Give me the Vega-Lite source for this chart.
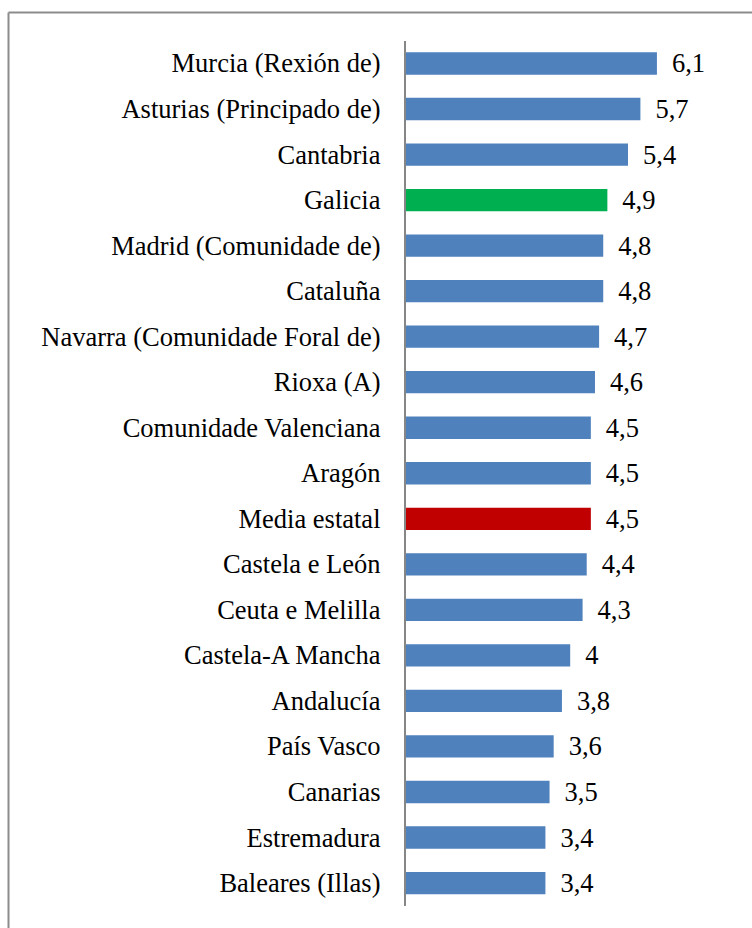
{
  "$schema": "https://vega.github.io/schema/vega-lite/v6.json",
  "width": 744,
  "height": 916,
  "autosize": {"type": "none"},
  "padding": {"left": 8, "top": 12, "right": 0, "bottom": 0},
  "background": "white",
  "config": {
    "view": {"stroke": null},
    "locale": {"number": {"decimal": ",", "thousands": ".", "grouping": [3], "currency": ["", " €"]}}
  },
  "data": {
    "values": [
      {"rexion": "Murcia (Rexión de)", "valor": 6.1, "tipo": "comunidade"},
      {"rexion": "Asturias (Principado de)", "valor": 5.7, "tipo": "comunidade"},
      {"rexion": "Cantabria", "valor": 5.4, "tipo": "comunidade"},
      {"rexion": "Galicia", "valor": 4.9, "tipo": "galicia"},
      {"rexion": "Madrid (Comunidade de)", "valor": 4.8, "tipo": "comunidade"},
      {"rexion": "Cataluña", "valor": 4.8, "tipo": "comunidade"},
      {"rexion": "Navarra (Comunidade Foral de)", "valor": 4.7, "tipo": "comunidade"},
      {"rexion": "Rioxa (A)", "valor": 4.6, "tipo": "comunidade"},
      {"rexion": "Comunidade Valenciana", "valor": 4.5, "tipo": "comunidade"},
      {"rexion": "Aragón", "valor": 4.5, "tipo": "comunidade"},
      {"rexion": "Media estatal", "valor": 4.5, "tipo": "media"},
      {"rexion": "Castela e León", "valor": 4.4, "tipo": "comunidade"},
      {"rexion": "Ceuta e Melilla", "valor": 4.3, "tipo": "comunidade"},
      {"rexion": "Castela-A Mancha", "valor": 4, "tipo": "comunidade"},
      {"rexion": "Andalucía", "valor": 3.8, "tipo": "comunidade"},
      {"rexion": "País Vasco", "valor": 3.6, "tipo": "comunidade"},
      {"rexion": "Canarias", "valor": 3.5, "tipo": "comunidade"},
      {"rexion": "Estremadura", "valor": 3.4, "tipo": "comunidade"},
      {"rexion": "Baleares (Illas)", "valor": 3.4, "tipo": "comunidade"}
    ]
  },
  "encoding": {
    "y": {
      "field": "rexion",
      "type": "nominal",
      "sort": null,
      "scale": {"type": "band", "paddingInner": 0.51, "paddingOuter": 0.814, "align": 0.544},
      "axis": {
        "orient": "left",
        "offset": -397,
        "title": null,
        "domain": false,
        "ticks": false,
        "labelPadding": 25,
        "labelOffset": 1,
        "labelFont": "Liberation Serif",
        "labelFontSize": 26.5,
        "labelColor": "#000000",
        "labelLimit": 500
      }
    }
  },
  "layer": [
    {
      "mark": {"type": "bar"},
      "encoding": {
        "x": {
          "field": "valor",
          "type": "quantitative",
          "scale": {"domain": [-9.6126, 8.4019], "zero": false, "nice": false},
          "axis": {
            "orient": "top",
            "title": null,
            "labels": false,
            "ticks": false,
            "domain": true,
            "domainColor": "#8c8c8c",
            "domainWidth": 2,
            "grid": true,
            "gridColor": "#8c8c8c",
            "gridWidth": 2,
            "values": [-9.6126]
          }
        },
        "x2": {"datum": 0},
        "color": {
          "field": "tipo",
          "type": "nominal",
          "scale": {"domain": ["comunidade", "galicia", "media"], "range": ["#4F81BD", "#00B050", "#C00000"]},
          "legend": null
        }
      }
    },
    {
      "mark": {"type": "text", "align": "left", "baseline": "middle", "dx": 15, "dy": 1, "font": "Liberation Serif", "fontSize": 26.5, "color": "#000000"},
      "encoding": {
        "x": {"field": "valor", "type": "quantitative"},
        "text": {"field": "valor", "type": "quantitative", "format": "~g"}
      }
    },
    {
      "mark": {"type": "rule", "color": "#868686", "strokeWidth": 2},
      "encoding": {
        "x": {"datum": 0},
        "y": {"datum": "Murcia (Rexión de)", "type": "nominal", "bandPosition": -0.5},
        "y2": {"datum": "Baleares (Illas)", "bandPosition": 1.5}
      }
    }
  ]
}
